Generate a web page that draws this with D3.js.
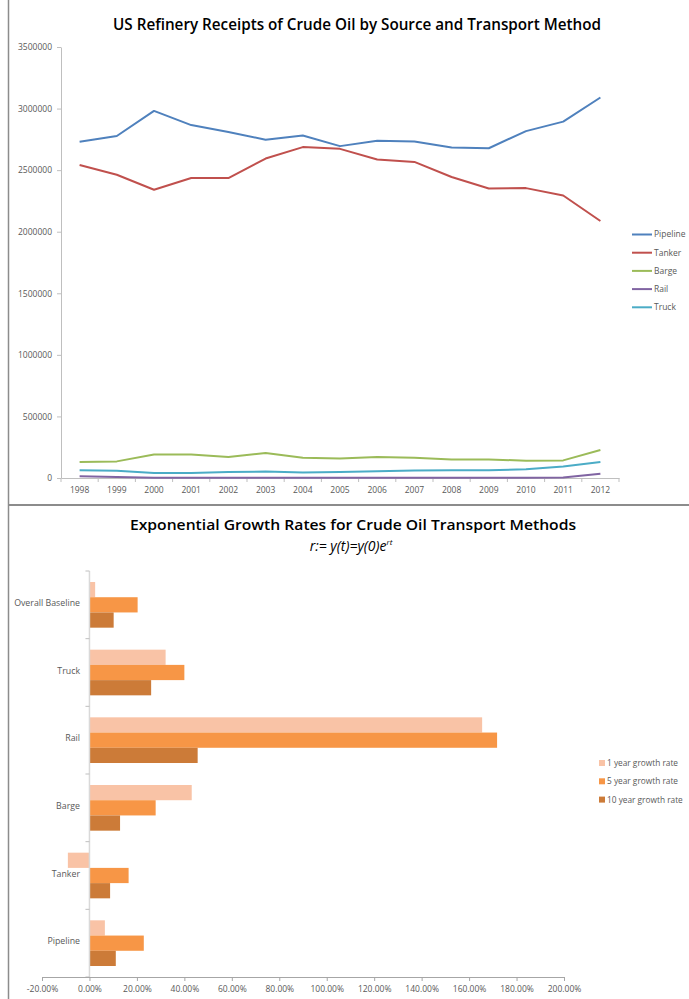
<!DOCTYPE html>
<html>
<head>
<meta charset="utf-8">
<script src="https://cdn.jsdelivr.net/npm/d3@7"></script>
<style>
  html, body { margin: 0; padding: 0; background: #fff; }
  svg { display: block; font-family: "Open Sans", "Liberation Sans", sans-serif; }
</style>
</head>
<body>
<svg id="chart" width="689" height="999"></svg>
<script>
// ---------- Data: top line chart ----------
const years = ["1998","1999","2000","2001","2002","2003","2004","2005","2006","2007","2008","2009","2010","2011","2012"];
const lineSeriesNames = ["Pipeline", "Tanker", "Barge", "Rail", "Truck"];
const pipeline = [2730000, 2777000, 2981000, 2866000, 2809000, 2747000, 2782000, 2695000, 2738000, 2733000, 2684000, 2678000, 2817000, 2894000, 3090000];
const tanker   = [2542000, 2463000, 2341000, 2436000, 2436000, 2594000, 2687000, 2673000, 2586000, 2567000, 2444000, 2351000, 2354000, 2294000, 2087000];
const barge    = [129000, 135000, 190000, 190000, 170000, 203000, 165000, 159000, 170000, 165000, 151000, 151000, 140000, 143000, 228000];
const rail     = [14000, 9000, 3000, 2000, 2000, 2000, 2000, 2000, 2000, 2000, 2000, 2000, 3000, 5000, 34000];
const truck    = [63000, 58000, 41000, 41000, 49000, 52000, 44000, 49000, 55000, 60000, 63000, 63000, 71000, 93000, 129000];
const yTicksTop = [0, 500000, 1000000, 1500000, 2000000, 2500000, 3000000, 3500000];

// ---------- Data: bottom bar chart ----------
const barCategories = ["Overall Baseline", "Truck", "Rail", "Barge", "Tanker", "Pipeline"];
const barSeriesNames = ["1 year growth rate", "5 year growth rate", "10 year growth rate"];
const growth1yr  = [0.024, 0.321, 1.655, 0.431, -0.091, 0.065];
const growth5yr  = [0.203, 0.400, 1.718, 0.279, 0.165, 0.229];
const growth10yr = [0.102, 0.260, 0.456, 0.129, 0.087, 0.111];
const xTicksBottom = [-0.2, 0, 0.2, 0.4, 0.6, 0.8, 1.0, 1.2, 1.4, 1.6, 1.8, 2.0];

// ---------- Styles ----------
const lineColors = ["#4F81BD", "#C0504D", "#9BBB59", "#8064A2", "#4BACC6"];
const barColors = ["#F9C3A6", "#F79646", "#CC7B38"];
const axisColor = "#BFBFBF";
const labelColor = "#595959";

const svg = d3.select("#chart");

// chart borders
svg.append("line").attr("x1", 8.5).attr("x2", 8.5).attr("y1", 0).attr("y2", 999)
  .attr("stroke", "#8C8C8C").attr("stroke-width", 1.5);
svg.append("line").attr("x1", 8).attr("x2", 689).attr("y1", 505).attr("y2", 505)
  .attr("stroke", "#8C8C8C").attr("stroke-width", 2);

// ================= TOP CHART =================
svg.append("text")
  .attr("x", 357).attr("y", 30)
  .attr("text-anchor", "middle")
  .attr("font-size", 15.5).attr("font-weight", 600).attr("fill", "#000")
  .attr("textLength", 488).attr("lengthAdjust", "spacingAndGlyphs")
  .text("US Refinery Receipts of Crude Oil by Source and Transport Method");

const xTop = d3.scaleBand().domain(years).range([61, 619]);
const yTop = d3.scaleLinear().domain([0, 3500000]).range([478, 47]);

// y axis
const yAxisG = svg.append("g").attr("transform", "translate(61,0)")
  .call(d3.axisLeft(yTop).tickValues(yTicksTop).tickSize(4).tickSizeOuter(0).tickPadding(5).tickFormat(d3.format("d")));
yAxisG.select(".domain").attr("stroke", axisColor);
yAxisG.selectAll(".tick line").attr("stroke", axisColor);
yAxisG.selectAll(".tick text").attr("fill", labelColor).attr("font-size", 8.5)
  .attr("font-family", "'Open Sans', sans-serif");

// x axis
const xAxisG = svg.append("g").attr("transform", "translate(0,478)")
  .call(d3.axisBottom(xTop).tickSize(0).tickPadding(9));
xAxisG.select(".domain").attr("stroke", axisColor);
xAxisG.selectAll(".tick text").attr("fill", labelColor).attr("font-size", 8.5)
  .attr("font-family", "'Open Sans', sans-serif");
// tick marks between categories
const boundaries = years.map(d => xTop(d)).concat([xTop(years[years.length - 1]) + xTop.bandwidth()]);
svg.append("g").selectAll("line").data(boundaries).join("line")
  .attr("x1", d => d).attr("x2", d => d).attr("y1", 478).attr("y2", 482)
  .attr("stroke", axisColor);

const lineData = [pipeline, tanker, barge, rail, truck];
const lineGen = d3.line()
  .x((d, i) => xTop(years[i]) + xTop.bandwidth() / 2)
  .y(d => yTop(d));

svg.append("g").selectAll("path").data(lineData).join("path")
  .attr("d", d => lineGen(d))
  .attr("fill", "none")
  .attr("stroke", (d, i) => lineColors[i])
  .attr("stroke-width", 2)
  .attr("stroke-linejoin", "round");

// legend
const legTop = svg.append("g");
lineSeriesNames.forEach((name, i) => {
  const y = 234.5 + i * 18.2;
  legTop.append("line").attr("x1", 632).attr("x2", 652).attr("y1", y).attr("y2", y)
    .attr("stroke", lineColors[i]).attr("stroke-width", 2);
  legTop.append("text").attr("x", 654).attr("y", y).attr("dy", "0.35em")
    .attr("font-size", 8.5).attr("fill", labelColor).text(name);
});

// ================= BOTTOM CHART =================
svg.append("text")
  .attr("x", 353).attr("y", 530)
  .attr("text-anchor", "middle")
  .attr("font-size", 14.5).attr("font-weight", 600).attr("fill", "#000")
  .attr("textLength", 446).attr("lengthAdjust", "spacingAndGlyphs")
  .text("Exponential Growth Rates for Crude Oil Transport Methods");

const sub = svg.append("text")
  .attr("x", 351).attr("y", 551)
  .attr("text-anchor", "middle")
  .attr("font-size", 14).attr("font-style", "italic").attr("fill", "#000");
sub.append("tspan").text("r:= y(t)=y(0)e");
sub.append("tspan").attr("font-size", 8).attr("dy", -6).text("rt");

const xBot = d3.scaleLinear().domain([-0.2, 2.0]).range([42, 564]);
const yBot = d3.scaleBand().domain(barCategories).range([571, 977]);
const groupH = yBot.bandwidth() * 0.675;
const ySub = d3.scaleBand().domain(barSeriesNames).range([0, groupH]);

const barData = [growth1yr, growth5yr, growth10yr];

barSeriesNames.forEach((s, si) => {
  svg.append("g").selectAll("rect").data(barData[si]).join("rect")
    .attr("x", d => xBot(Math.min(0, d)))
    .attr("width", d => Math.abs(xBot(d) - xBot(0)))
    .attr("y", (d, i) => yBot(barCategories[i]) + (yBot.bandwidth() - groupH) / 2 + ySub(s))
    .attr("height", ySub.bandwidth())
    .attr("fill", barColors[si]);
});

// zero (category) axis line
svg.append("line").attr("x1", xBot(0)).attr("x2", xBot(0)).attr("y1", 571).attr("y2", 977)
  .attr("stroke", "#D9D9D9").attr("stroke-width", 1.5);
// category tick marks
const catBounds = barCategories.map(c => yBot(c)).concat([977]);
svg.append("g").selectAll("line").data(catBounds).join("line")
  .attr("x1", xBot(0) - 4).attr("x2", xBot(0)).attr("y1", d => d).attr("y2", d => d)
  .attr("stroke", "#BFBFBF");
// category labels
svg.append("g").selectAll("text").data(barCategories).join("text")
  .attr("x", 80).attr("y", c => yBot(c) + yBot.bandwidth() / 2 - 2)
  .attr("dy", "0.35em").attr("text-anchor", "end")
  .attr("font-size", 8.8).attr("fill", labelColor).text(c => c);

// value axis
const xBotAxis = svg.append("g").attr("transform", "translate(0,977)")
  .call(d3.axisBottom(xBot).tickValues(xTicksBottom).tickSize(4).tickSizeOuter(0).tickPadding(5)
    .tickFormat(d => (d * 100).toFixed(2) + "%"));
xBotAxis.select(".domain").attr("stroke", "#A6A6A6");
xBotAxis.selectAll(".tick line").attr("stroke", "#A6A6A6");
xBotAxis.selectAll(".tick text").attr("fill", labelColor).attr("font-size", 8.5)
  .attr("font-family", "'Open Sans', sans-serif");

// legend bottom
const legBot = svg.append("g");
barSeriesNames.forEach((name, i) => {
  const y = 763 + i * 18.3;
  legBot.append("rect").attr("x", 599).attr("y", y - 3).attr("width", 6).attr("height", 6)
    .attr("fill", barColors[i]);
  legBot.append("text").attr("x", 607).attr("y", y).attr("dy", "0.35em")
    .attr("font-size", 8.3).attr("fill", labelColor).text(name);
});
</script>
</body>
</html>
